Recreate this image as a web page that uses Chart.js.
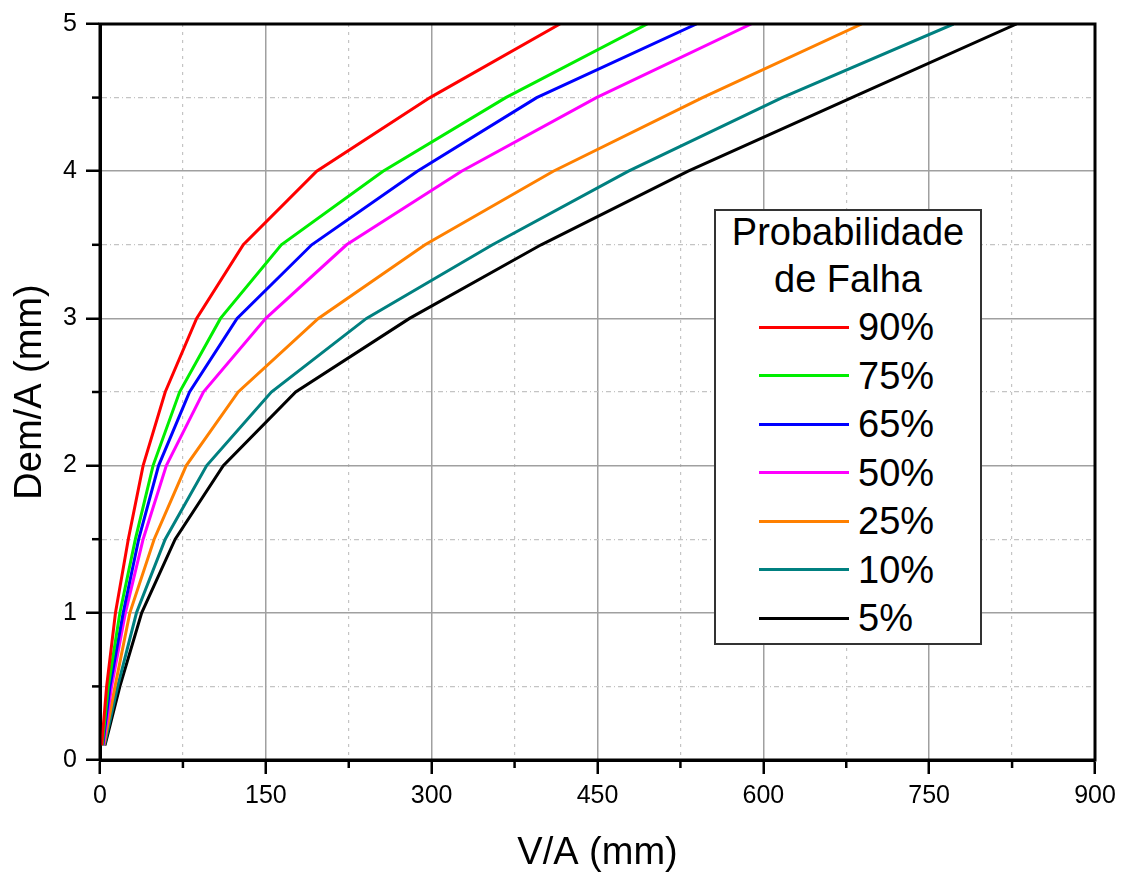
<!DOCTYPE html>
<html>
<head>
<meta charset="utf-8">
<script src="https://cdn.jsdelivr.net/npm/chart.js@4/dist/chart.umd.min.js"></script>
<style>
  html, body { margin: 0; padding: 0; background: #fff; }
  #wrap { position: relative; width: 1126px; height: 876px; }
  #legend { position: absolute; left: 714px; top: 209px; width: 264px; height: 432px;
            border: 2px solid #333; background: #fff; font-family: "Liberation Sans", Arial, sans-serif; }
  #legend .t { position: absolute; left: 0; width: 100%; text-align: center; font-size: 38px; line-height: 46px; color: #000; }
  #legend .sw { position: absolute; left: 43px; width: 90px; height: 3px; }
  #legend .lb { position: absolute; left: 142px; font-size: 38px; line-height: 46px; color: #000; }
</style>
</head>
<body>
<div id="wrap">
  <canvas id="c" width="1126" height="876"></canvas>
  <div id="legend"></div>
</div>
<script>
// Dem/A levels (y) shared by all curves
const yLevels = [0.1, 0.5, 1, 1.5, 2, 2.5, 3, 3.5, 4, 4.5, 5];
// V/A values (x) for each failure probability
const x90 = [1.5, 6, 14, 25.6, 39, 59, 87.4, 129.6, 196, 298.5, 416];
const x75 = [2, 7.5, 18, 32, 48, 72, 109, 164, 256, 367, 495];
const x65 = [2.5, 9, 21, 35, 53, 81, 124, 191.5, 287, 395, 539.5];
const x50 = [3, 10.5, 23, 39, 60, 93.5, 150, 223, 327, 449, 589];
const x25 = [3.5, 13.6, 27, 49, 78, 125, 197.5, 294, 410, 545, 689];
const x10 = [4, 16, 33, 59, 96.5, 155, 241, 355, 478, 617, 772];
const x05 = [4.5, 18, 37.7, 68, 111.5, 177, 280, 399, 532, 680, 829];

const seriesLabels = ["90%", "75%", "65%", "50%", "25%", "10%", "5%"];
const seriesX = [x90, x75, x65, x50, x25, x10, x05];
const seriesColors = ["#ff0000", "#00ee00", "#0000ff", "#ff00ff", "#ff8000", "#008080", "#000000"];
const legendTitle = ["Probabilidade", "de Falha"];
const xTitle = "V/A (mm)";
const yTitle = "Dem/A (mm)";

const datasets = seriesX.map((xs, i) => ({
  label: seriesLabels[i],
  data: xs.map((x, j) => ({ x: x, y: yLevels[j] })),
  borderColor: seriesColors[i],
  backgroundColor: seriesColors[i],
  borderWidth: 3,
  pointRadius: 0,
  showLine: true,
  tension: 0,
  fill: false
}));

const FONT = '"Liberation Sans", Arial, sans-serif';
const MAJOR = '#a0a0a0', MINOR = '#c4c4c4';

function isMajorX(v) { return Math.abs(v % 150) < 1e-6; }
function isMajorY(v) { return Math.abs(v - Math.round(v)) < 1e-6; }

const framePlugin = {
  id: 'frame',
  afterDraw(chart) {
    const { ctx, chartArea: a, scales } = chart;
    ctx.save();
    ctx.strokeStyle = '#000';
    ctx.lineWidth = 2.5;
    scales.x.ticks.forEach(t => {
      if (!isMajorX(t.value)) {
        const px = scales.x.getPixelForValue(t.value);
        ctx.beginPath(); ctx.moveTo(px, a.bottom); ctx.lineTo(px, a.bottom + 8); ctx.stroke();
      }
    });
    scales.y.ticks.forEach(t => {
      if (!isMajorY(t.value)) {
        const py = scales.y.getPixelForValue(t.value);
        ctx.beginPath(); ctx.moveTo(a.left, py); ctx.lineTo(a.left - 8, py); ctx.stroke();
      }
    });
    ctx.lineWidth = 3;
    ctx.strokeRect(a.left, a.top, a.right - a.left, a.bottom - a.top);
    ctx.restore();
  }
};

const chart = new Chart(document.getElementById('c'), {
  type: 'scatter',
  data: { datasets },
  options: {
    responsive: false,
    animation: false,
    layout: { padding: { left: 0, top: 24, right: 31, bottom: 0 } },
    plugins: { legend: { display: false }, tooltip: { enabled: false } },
    scales: {
      x: {
        type: 'linear', min: 0, max: 900,
        afterFit(s) { s.height = 116; },
        ticks: {
          stepSize: 75, autoSkip: false, maxRotation: 0, padding: 7,
          color: '#000', font: { family: FONT, size: 25 },
          callback: v => isMajorX(v) ? String(v) : ''
        },
        grid: {
          color: c => isMajorX(c.tick.value) ? MAJOR : MINOR,
          lineWidth: c => isMajorX(c.tick.value) ? 1.5 : 1.2,
          tickColor: c => isMajorX(c.tick.value) ? '#000' : 'rgba(0,0,0,0)',
          tickLength: 14, tickWidth: 2.5
        },
        border: {
          display: true, color: '#000', width: 3,
          dash: c => (c.type === 'tick' && c.tick && !isMajorX(c.tick.value)) ? [3, 5] : []
        },
        title: { display: true, text: xTitle, color: '#000', font: { family: FONT, size: 38 }, padding: { top: 0, bottom: 0 } }
      },
      y: {
        type: 'linear', min: 0, max: 5,
        afterFit(s) { s.width = 100; },
        ticks: {
          stepSize: 0.5, autoSkip: false, padding: 9,
          color: '#000', font: { family: FONT, size: 25 },
          callback: v => isMajorY(v) ? String(v) : ''
        },
        grid: {
          color: c => isMajorY(c.tick.value) ? MAJOR : MINOR,
          lineWidth: c => isMajorY(c.tick.value) ? 1.5 : 1.2,
          tickColor: c => isMajorY(c.tick.value) ? '#000' : 'rgba(0,0,0,0)',
          tickLength: 14, tickWidth: 2.5
        },
        border: {
          display: true, color: '#000', width: 3,
          dash: c => (c.type === 'tick' && c.tick && !isMajorY(c.tick.value)) ? [5, 3, 1, 3] : []
        },
        title: { display: true, text: yTitle, color: '#000', font: { family: FONT, size: 38 }, padding: { top: 8, bottom: 0 } }
      }
    }
  },
  plugins: [framePlugin]
});

// HTML legend built from the series arrays
const lg = document.getElementById('legend');
legendTitle.forEach((t, i) => {
  const d = document.createElement('div');
  d.className = 't';
  d.style.top = (-2 + i * 47) + 'px';
  d.textContent = t;
  lg.appendChild(d);
});
seriesLabels.forEach((lab, i) => {
  const cy = 116 + i * 48.5;
  const sw = document.createElement('div');
  sw.className = 'sw';
  sw.style.top = (cy - 1.5) + 'px';
  sw.style.background = seriesColors[i];
  lg.appendChild(sw);
  const tx = document.createElement('div');
  tx.className = 'lb';
  tx.style.top = (cy - 23) + 'px';
  tx.textContent = lab;
  lg.appendChild(tx);
});
</script>
</body>
</html>
